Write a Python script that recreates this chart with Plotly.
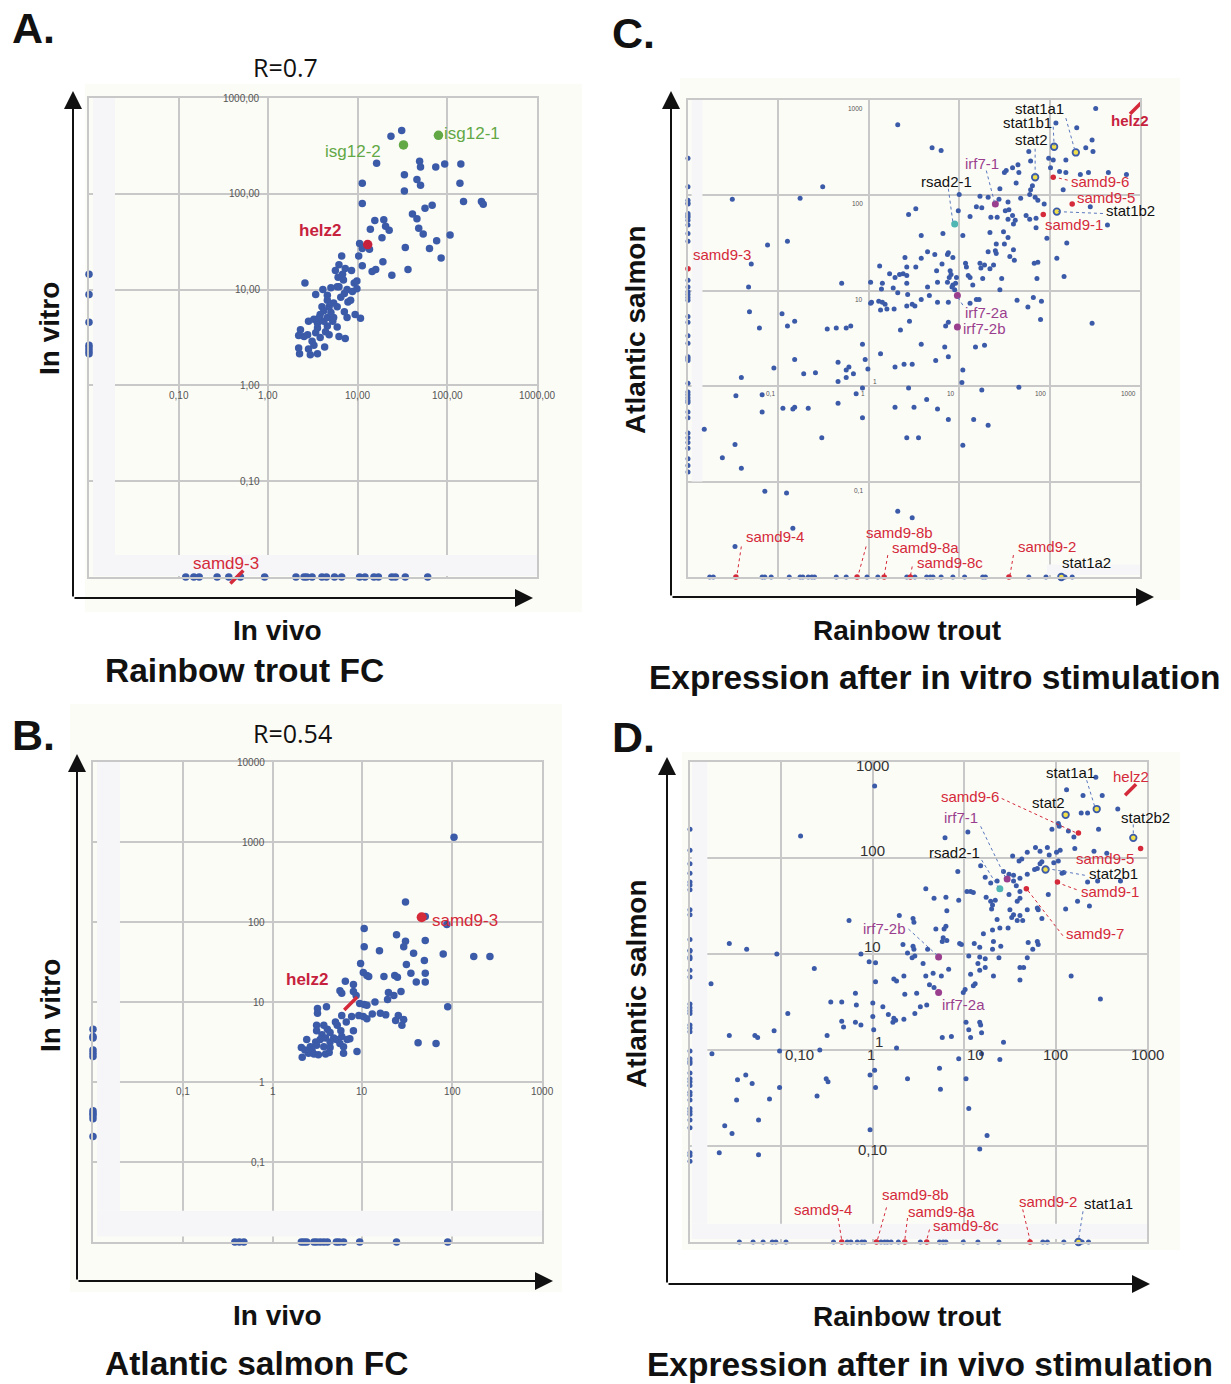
import plotly.graph_objects as go

# ------------------------------------------------------------------
# DATA  (values are log10 fold change; None = no detectable change,
#        such genes are drawn on the floor of the axis)
# ------------------------------------------------------------------

# A. Rainbow trout FC : (in vivo, in vitro)
a_points = [
    (1.49, 2.66), (1.37, 2.60), (1.21, 2.32), (1.05, 2.11), (1.05, 1.90), (1.69, 2.34), (1.70, 2.28),
    (1.87, 2.28), (1.97, 2.31), (2.15, 2.31), (1.52, 2.20), (1.66, 2.15), (1.70, 2.09), (1.52, 2.03),
    (2.14, 2.11), (2.18, 1.92), (2.38, 1.92), (2.40, 1.89), (1.83, 1.88), (1.75, 1.85), (1.61, 1.79),
    (1.66, 1.74), (1.19, 1.72), (1.29, 1.73), (1.31, 1.66), (1.35, 1.62), (1.14, 1.63), (1.68, 1.64),
    (1.73, 1.58), (2.03, 1.57), (1.27, 1.54), (1.88, 1.51), (1.80, 1.43), (1.53, 1.44), (1.93, 1.33),
    (1.02, 1.48), (1.05, 1.43), (1.13, 1.42), (1.01, 1.35), (0.82, 1.35), (1.05, 1.25), (1.28, 1.29),
    (1.20, 1.21), (1.16, 1.19), (1.56, 1.21), (1.38, 1.15), (0.79, 1.26), (0.75, 1.20), (0.83, 1.16),
    (0.86, 1.22), (0.93, 1.20), (0.78, 1.13), (0.84, 1.10), (0.77, 1.03), (0.88, 1.00), (0.96, 1.07),
    (0.99, 1.09), (0.94, 0.98), (0.99, 1.01), (0.92, 0.89), (0.89, 0.87), (0.70, 1.02), (0.61, 1.00),
    (0.66, 0.94), (0.53, 0.95), (0.41, 1.07), (0.73, 0.86), (0.77, 0.82), (0.85, 0.77), (0.88, 0.71),
    (0.97, 0.74), (1.03, 0.70), (0.77, 0.61), (0.79, 0.51), (0.86, 0.49), (0.63, 0.40), (0.55, 0.33),
    (0.47, 0.32), (0.35, 0.33), (0.34, 0.39), (0.36, 0.58), (0.34, 0.52), (0.44, 0.53), (0.45, 0.67),
    (0.51, 0.69), (0.55, 0.60), (0.58, 0.50), (0.60, 0.82), (0.66, 0.89), (0.62, 0.78), (0.58, 0.74),
    (0.66, 0.71), (0.70, 0.76), (0.72, 0.67), (0.66, 0.62), (0.55, 0.65), (0.53, 0.55), (0.49, 0.46),
    (0.45, 0.38), (0.40, 0.51), (0.62, 0.67), (0.68, 0.82), (0.57, 0.71), (0.64, 0.56), (0.51, 0.42),
    (0.68, 0.53), (0.73, 0.71), (0.81, 0.92), (0.79, 1.03), (0.85, 0.96),
]
a_left = [1.16, 0.95, 0.66, 0.42, 0.39, 0.36, 0.33]          # in vivo FC = 0
a_bottom = [-0.92, -0.83, -0.77, -0.57, -0.44, -0.31, -0.04, 0.31, 0.40, 0.43, 0.49, 0.60,
            0.65, 0.74, 0.82, 1.02, 1.08, 1.18, 1.23, 1.38, 1.42, 1.53, 1.78]  # in vitro FC = 0
a_genes = ["isg12-1", "isg12-2", "helz2", "samd9-3"]
a_gene_x = [1.90, 1.51, 1.11, -0.35]
a_gene_y = [2.61, 2.51, 1.47, None]

# B. Atlantic salmon FC : (in vivo, in vitro)
b_points = [
    (2.02, 3.06), (1.48, 2.25), (1.70, 2.07), (1.94, 1.97), (1.02, 1.92), (1.38, 1.84), (1.48, 1.76),
    (1.70, 1.77), (1.46, 1.69), (1.02, 1.69), (1.19, 1.64), (1.57, 1.61), (1.90, 1.60), (2.24, 1.57),
    (2.42, 1.57), (1.69, 1.52), (0.98, 1.48), (1.49, 1.47), (1.54, 1.36), (1.70, 1.36), (1.01, 1.37),
    (1.05, 1.33), (1.07, 1.32), (1.24, 1.32), (1.36, 1.33), (1.39, 1.31), (1.60, 1.25), (1.70, 1.25),
    (0.81, 1.26), (0.90, 1.22), (0.75, 1.14), (0.77, 1.11), (1.29, 1.12), (1.35, 1.08), (1.43, 1.13),
    (1.28, 1.03), (0.93, 1.08), (1.14, 1.00), (1.02, 0.97), (0.97, 0.98), (1.05, 0.96), (1.95, 0.94),
    (1.11, 0.85), (1.20, 0.86), (1.26, 0.84), (1.40, 0.83), (1.37, 0.77), (1.46, 0.78), (1.44, 0.71),
    (0.88, 0.82), (0.96, 0.83), (1.05, 0.79), (1.01, 0.82), (0.77, 0.83), (0.82, 0.75), (0.90, 0.64),
    (0.86, 0.54), (0.94, 0.38), (1.62, 0.49), (1.82, 0.48), (0.50, 0.92), (0.50, 0.86), (0.60, 0.94),
    (0.49, 0.71), (0.57, 0.71), (0.61, 0.66), (0.49, 0.64), (0.55, 0.59), (0.64, 0.62), (0.70, 0.75),
    (0.72, 0.71), (0.76, 0.64), (0.77, 0.57), (0.71, 0.53), (0.64, 0.50), (0.59, 0.55), (0.53, 0.53),
    (0.48, 0.50), (0.38, 0.53), (0.42, 0.44), (0.49, 0.46), (0.57, 0.44), (0.64, 0.43), (0.79, 0.44),
    (0.79, 0.36), (0.32, 0.43), (0.33, 0.31), (0.40, 0.36), (0.46, 0.35), (0.51, 0.34), (0.59, 0.35),
    (0.36, 0.40), (0.44, 0.39), (0.63, 0.37), (0.68, 0.55), (0.83, 0.53), (0.75, 0.48), (0.90, 1.13),
]
b_left = [0.66, 0.57, 0.55, 0.40, 0.36, 0.32, -0.36, -0.39, -0.42, -0.46, -0.68]
b_bottom = [-0.42, -0.37, -0.32, 0.32, 0.35, 0.38, 0.46, 0.49, 0.53, 0.57, 0.61, 0.71, 0.74,
            0.79, 0.97, 1.38, 1.95]
b_genes = ["helz2", "samd9-3"]
b_gene_x = [0.87, 1.66]
b_gene_y = [0.98, 2.06]

# C. Expression after in vitro stimulation : (rainbow trout, Atlantic salmon)
c_points = [
    (2.51, 2.91), (2.07, 2.76), (2.30, 2.71), (0.32, 2.74), (0.70, 2.50), (0.80, 2.47), (2.47, 2.58),
    (2.40, 2.50), (2.48, 2.46), (1.77, 2.46), (1.99, 2.39), (2.04, 2.37), (2.18, 2.37), (1.79, 2.36),
    (1.65, 2.32), (1.52, 2.26), (1.59, 2.29), (1.50, 2.24), (1.66, 2.24), (2.11, 2.25), (2.18, 2.24),
    (2.01, 2.29), (2.34, 2.22), (2.43, 2.24), (2.65, 2.24), (2.85, 2.22), (1.63, 2.13), (1.45, 2.07),
    (1.81, 2.10), (1.79, 2.06), (2.15, 2.06), (-0.51, 2.09),
    (-1.51, 1.96), (-0.76, 1.97), (1.00, 2.01), (0.52, 1.86), (0.44, 1.80), (1.23, 1.99), (1.32, 1.98),
    (1.19, 1.88), (1.25, 1.87), (1.44, 1.96), (1.54, 1.93), (1.68, 1.97), (1.78, 2.01), (1.84, 1.98),
    (1.87, 1.95), (1.94, 1.91), (0.99, 1.84), (1.12, 1.78), (1.35, 1.77), (1.42, 1.77), (1.51, 1.84),
    (1.55, 1.85), (1.59, 1.79), (1.62, 1.74), (1.60, 1.70), (1.54, 1.75), (1.74, 1.79), (1.78, 1.75),
    (1.85, 1.76), (1.85, 1.66), (1.97, 1.55), (2.45, 1.88), (2.64, 1.69), (2.19, 1.50), (2.08, 1.34),
    (2.16, 1.15), (0.58, 1.58), (0.82, 1.60), (1.04, 1.58), (1.34, 1.61), (1.49, 1.62), (1.54, 1.56),
    (1.60, 1.43), (1.61, 1.32), (1.56, 1.36), (1.50, 1.49), (1.41, 1.49), (1.40, 1.42), (1.32, 1.41),
    (1.41, 1.39), (1.23, 1.29), (1.28, 1.27), (1.38, 1.27), (1.34, 1.23), (1.24, 1.24), (1.07, 1.29),
    (1.08, 1.25), (0.88, 1.40), (0.87, 1.38), (0.93, 1.35), (0.81, 1.28), (0.73, 1.38), (0.65, 1.41),
    (0.40, 1.35), (0.42, 1.25), (0.52, 1.25), (0.58, 1.34), (0.75, 1.21), (0.90, 1.21), (0.91, 1.17),
    (0.89, 1.14), (0.97, 1.14), (1.10, 1.16), (1.12, 1.14), (1.26, 1.13), (1.47, 1.13), (1.86, 1.13),
    (1.83, 1.29), (1.87, 1.30), (-1.12, 1.48), (-0.90, 1.52), (-1.30, 1.28), (-1.33, 1.04), (-0.30, 1.08),
    (0.12, 1.26), (0.23, 1.18), (0.29, 1.14), (0.34, 1.17), (0.38, 1.18), (0.42, 1.16), (0.42, 1.08),
    (0.27, 1.03), (0.14, 1.02), (0.15, 1.08), (0.02, 1.09), (0.65, 1.04), (0.76, 1.09), (0.87, 1.09),
    (0.93, 1.06), (0.96, 1.08), (1.15, 1.06), (1.45, 1.01), (0.95, 1.01), (0.92, 1.04),
    (0.02, 0.87), (0.03, 0.88), (0.11, 0.89), (0.15, 0.88), (0.18, 0.86), (0.20, 0.81), (0.13, 0.80),
    (0.28, 0.81), (0.32, 0.98), (0.43, 0.96), (0.48, 0.86), (0.51, 0.84), (0.42, 0.84), (0.58, 0.91),
    (0.67, 0.95), (0.76, 0.88), (0.88, 0.88), (1.12, 0.87), (1.19, 0.91), (1.22, 0.91), (1.64, 0.90),
    (1.76, 0.83), (1.82, 0.93), (1.91, 0.89), (1.90, 0.70), (2.47, 0.66), (0.35, 0.59), (0.45, 0.68),
    (0.85, 0.63), (0.88, 0.67), (-1.32, 0.78), (-1.21, 0.61), (-0.96, 0.76), (-0.90, 0.63), (-0.82, 0.68),
    (-0.46, 0.60), (-0.36, 0.61), (-0.25, 0.61), (-0.20, 0.63), (-0.07, 0.44), (0.13, 0.34), (-0.04, 0.28),
    (-0.01, 0.18), (0.29, 0.20), (0.39, 0.23), (0.48, 0.23), (0.74, 0.27), (0.88, 0.31), (0.58, 0.44),
    (0.84, 0.41), (1.18, 0.41), (1.28, 0.43), (1.04, 0.17), (1.03, 0.04), (-0.34, 0.25), (-0.25, 0.17),
    (-0.22, 0.20), (-0.17, 0.13), (-0.34, 0.05), (-0.25, 0.09), (-0.72, 0.13), (-0.59, 0.14), (-0.82, 0.28),
    (-1.05, 0.19), (-1.41, 0.09), (-0.07, -0.02), (-0.14, -0.08), (1.66, -0.01), (1.25, -0.04),
    (-1.47, -0.10), (-1.18, -0.09), (-1.18, -0.27), (-0.95, -0.23), (-0.84, -0.24), (-0.82, -0.22),
    (-0.67, -0.23), (-0.34, -0.18), (-0.07, -0.33), (0.29, -0.22), (0.44, -0.02), (0.50, -0.22),
    (0.64, -0.14), (0.76, -0.24), (0.88, -0.35), (1.16, -0.35), (1.32, -0.41), (-0.52, -0.54),
    (0.42, -0.54), (0.55, -0.54), (1.04, -0.62), (-1.82, -0.45), (-1.48, -0.61), (-1.62, -0.75),
    (-1.41, -0.86), (-1.15, -1.10), (-0.91, -1.12), (0.32, -1.31), (0.48, -1.38), (-0.84, -1.49),
    (-1.48, -1.68),
]
c_left = [2.39, 2.09, 1.95, 1.92, 1.91, 1.81, 1.79, 1.77, 1.74, 1.69, 1.60, 1.52, 1.11, 1.04, 0.99,
          0.96, 0.93, 0.90, 0.73, 0.67, 0.53, 0.45, 0.31, 0.29, 0.27, 0.03, -0.06, -0.09, -0.12, -0.15,
          -0.17, -0.27, -0.33, -0.49, -0.54, -0.59, -0.65, -0.76, -0.83, -0.90]
c_bottom = [-1.76, -1.72, -1.18, -1.15, -1.08, -0.88, -0.76, -0.73, -0.67, -0.63, -0.60, -0.36, -0.25,
            -0.02, 0.10, 0.42, 0.51, 0.64, 0.68, 0.71, 0.80, 0.93, 1.06, 1.26, 1.29, 1.77, 1.96, 2.17, 2.25]
c_genes = ["helz2", "samd9-6", "samd9-5", "samd9-1", "samd9-3", "samd9-4", "samd9-8b", "samd9-8a",
           "samd9-8c", "samd9-2", "irf7-1", "irf7-2a", "irf7-2b", "rsad2-1",
           "stat1a1", "stat1b1", "stat2", "stat1b2", "stat1a2"]
c_gene_x = [2.95, 2.04, 2.25, 1.93, None, -1.47, -0.13, 0.17, 0.46, 1.55, 1.40, 0.98, 0.98, 0.95,
            2.29, 2.05, 1.84, 2.08, 2.13]
c_gene_y = [2.91, 2.19, 1.91, 1.80, 1.23, None, None, None, None, None, 1.91, 0.95, 0.62, 1.70,
            2.45, 2.51, 2.19, 1.83, None]

# D. Expression after in vivo stimulation : (rainbow trout, Atlantic salmon)
d_points = [
    (2.44, 2.84), (2.12, 2.71), (2.30, 2.65), (2.51, 2.65), (0.02, 2.75), (2.68, 2.51), (2.28, 2.47),
    (2.35, 2.47), (2.47, 2.30), (2.03, 2.36), (2.04, 2.33), (1.96, 2.30), (2.14, 2.28), (2.20, 2.22),
    (0.79, 2.21), (1.04, 2.27), (-0.79, 2.23), (2.01, 2.06), (2.05, 2.08), (2.21, 2.10), (1.91, 2.11),
    (1.78, 2.11), (1.83, 2.07), (1.69, 2.06), (1.53, 2.02), (1.63, 1.99), (1.93, 2.03), (2.42, 2.07),
    (2.56, 2.05), (1.98, 1.95), (2.07, 1.84), (2.46, 1.76), (2.71, 1.76), (1.85, 1.96), (1.60, 1.97),
    (0.93, 1.86), (1.18, 1.92), (1.23, 1.80), (1.29, 1.74), (1.36, 1.76), (1.49, 1.83), (1.54, 1.82),
    (1.61, 1.79), (1.69, 1.83), (1.77, 1.88), (1.80, 1.89), (1.83, 1.94), (2.03, 1.97), (2.09, 1.85),
    (2.35, 1.75), (1.43, 1.86), (1.03, 1.65), (1.07, 1.65), (1.10, 1.64), (0.94, 1.56), (1.24, 1.59),
    (1.29, 1.55), (1.31, 1.51), (1.30, 1.47), (1.34, 1.56), (1.49, 1.62), (1.58, 1.55), (1.61, 1.58),
    (1.61, 1.65), (1.57, 1.71), (1.54, 1.76), (1.92, 1.62), (1.80, 1.48), (1.81, 1.46), (1.69, 1.46),
    (1.61, 1.40), (1.54, 1.41), (1.52, 1.38), (1.58, 1.35), (1.64, 1.35), (1.48, 1.27), (1.85, 1.37),
    (2.11, 1.47), (2.24, 1.55), (2.37, 1.50), (1.50, 1.46), (1.36, 1.36), (0.58, 1.68), (0.67, 1.58),
    (0.80, 1.59), (0.81, 1.45), (0.80, 1.29), (0.78, 1.26), (0.69, 1.26), (0.77, 1.17), (0.76, 1.13),
    (0.81, 1.14), (0.95, 1.11), (0.97, 1.10), (1.21, 1.21), (1.31, 1.25), (1.39, 1.27), (1.40, 1.08),
    (1.32, 1.13), (1.31, 1.05), (1.11, 1.11), (1.17, 1.07), (1.70, 1.12), (1.80, 1.13), (1.81, 1.10),
    (1.75, 1.05), (1.69, 0.96), (0.29, 1.40), (0.44, 1.37), (0.45, 1.33), (-0.26, 1.35), (0.33, 1.10),
    (0.44, 1.08), (0.45, 1.05), (0.46, 0.98), (0.60, 1.05), (0.38, 1.01), (0.43, 0.96), (-1.57, 1.11),
    (-1.38, 1.05), (-1.05, 1.00), (-0.13, 1.00), (-0.04, 0.92), (0.03, 0.91),
    (-0.64, 0.85), (0.03, 0.71), (0.23, 0.74), (0.26, 0.72), (0.34, 0.77), (0.35, 0.58), (0.48, 0.59),
    (0.55, 0.90), (0.58, 0.77), (0.66, 0.80), (0.75, 0.77), (0.83, 0.84), (1.05, 0.98), (1.17, 0.97),
    (1.23, 0.95), (1.38, 0.96), (1.15, 0.90), (1.17, 0.83), (1.23, 0.86), (1.07, 0.79), (1.12, 0.69),
    (1.32, 0.77), (1.61, 0.86), (1.65, 0.86), (1.61, 0.73), (2.17, 0.77), (2.49, 0.53), (0.62, 0.68),
    (0.67, 0.65), (0.59, 0.47), (0.52, 0.45), (0.46, 0.38), (0.34, 0.32), (0.25, 0.31), (0.22, 0.29),
    (0.23, 0.33), (0.17, 0.37), (0.11, 0.45), (0.00, 0.49), (0.00, 0.35), (0.01, 0.21), (-0.13, 0.26),
    (-0.19, 0.29), (-0.18, 0.47), (-0.19, 0.59), (-0.34, 0.50), (-0.34, 0.30), (-0.32, 0.24), (-0.46, 0.50),
    (-0.50, 0.15), (0.99, 0.60), (1.01, 0.63), (1.10, 0.67), (1.02, 0.29), (1.05, 0.21), (1.17, 0.29),
    (1.18, 0.26), (1.19, 0.18), (1.07, 0.13), (0.76, 0.13), (0.86, 0.14), (0.26, 0.02), (1.43, 0.08),
    (-1.77, 0.69), (-0.93, 0.38), (-1.08, 0.20), (-1.57, 0.15), (-1.29, 0.15), (-1.26, 0.13),
    (-1.76, -0.04), (-1.02, -0.01), (-0.58, 0.00), (0.94, -0.09), (1.19, -0.04), (1.39, -0.10),
    (0.73, -0.19), (1.02, -0.30), (0.02, -0.21), (-0.03, -0.26), (0.38, -0.30), (-0.51, -0.30),
    (-0.49, -0.33), (0.03, -0.39), (0.74, -0.41), (-0.61, -0.48), (-1.02, -0.39), (-1.13, -0.51),
    (-1.32, -0.35), (-1.39, -0.26), (-1.48, -0.31), (-1.49, -0.52), (-1.25, -0.73), (-1.62, -0.79),
    (-1.54, -0.87), (-0.03, -0.83), (1.05, -0.61), (1.25, -0.89), (1.17, -1.03), (-1.68, -1.07),
    (-1.25, -1.09),
]
d_left = [2.30, 2.08, 1.94, 1.84, 1.75, 1.72, 1.67, 1.46, 1.41, 1.15, 1.04, 1.03, 0.97, 0.95, 0.83,
          0.76, 0.48, 0.44, 0.41, 0.38, 0.26, 0.23, 0.19, -0.01, -0.09, -0.12, -0.14, -0.24, -0.30,
          -0.33, -0.37, -0.44, -0.47, -0.52, -0.61, -0.64, -0.67, -0.73, -0.81, -1.07, -1.10, -1.16]
d_bottom = [-1.46, -1.31, -1.20, -1.10, -1.06, -0.95, -0.43, -0.28, -0.24, -0.17, -0.12, -0.09, 0.09,
            0.13, 0.16, 0.20, 0.28, 0.52, 0.73, 0.77, 0.80, 0.99, 1.15, 1.38, 1.86, 1.91, 2.09, 2.29, 2.36]
d_genes = ["helz2", "samd9-6", "samd9-5", "samd9-1", "samd9-7", "samd9-4", "samd9-8b", "samd9-8a",
           "samd9-8c", "samd9-2", "irf7-1", "irf7-2b", "irf7-2a", "rsad2-1",
           "stat1a1", "stat2", "stat2b2", "stat2b1", "stat1a1 "]
d_gene_x = [2.82, 2.25, 2.93, 2.02, 1.68, -0.34, 0.04, 0.35, 0.59, 1.72, 1.47, 0.72, 0.72, 1.39,
            2.45, 2.11, 2.85, 1.89, 2.25]
d_gene_y = [2.71, 2.26, 2.10, 1.75, 1.68, None, None, None, None, None, 1.78, 0.97, 0.60, 1.68,
            2.51, 2.45, 2.21, 1.88, None]

# tick labels (log10 position -> printed fold change)
a_ticks = [-1, 0, 1, 2, 3]
a_tick_text = ["0,10", "1,00", "10,00", "100,00", "1000,00"]
b_xticks = [-1, 0, 1, 2, 3]
b_xtick_text = ["0,1", "1", "10", "100", "1000"]
b_yticks = [-1, 0, 1, 2, 3, 4]
b_ytick_text = ["0,1", "1", "10", "100", "1000", "10000"]
c_ticks = [-1, 0, 1, 2, 3]
c_tick_text = ["0,1", "1", "10", "100", "1000"]
d_ticks = [-1, 0, 1, 2, 3]
d_tick_text = ["0,10", "1", "10", "100", "1000"]

# ------------------------------------------------------------------
# STYLE / LAYOUT
# ------------------------------------------------------------------
PAGE = 8                      # default body margin of the html page
W, H = 1231 - PAGE, 1384 - PAGE
SANS = "Liberation Sans, Arial, Helvetica, sans-serif"
HUMAN = "Open Sans, Liberation Sans, Arial, sans-serif"
BLUE = "#3b5ba9"
RED = "#d42a3a"
CRIMSON = "#c7223d"
GREEN = "#62a845"
PURPLE = "#9a3f8e"
TEAL = "#4fb6b3"
YELLOW = "#f1e04a"
BLACK = "#111111"
LEAD = "#5a78bd"
GRID = "#c8c8c8"
BG = "#fcfcf7"
STRIP = "#f6f6f8"
FLOOR = -2


def X(px):
    return (px - PAGE) / W


def Y(py):
    return 1 - (py - PAGE) / H


def fl(v):
    return FLOOR if v is None else v


def sfx(n):
    return "" if n == 1 else str(n)


fig = go.Figure()

SLASH = {"A": {"samd9-3"}, "B": {"helz2"}, "C": {"helz2"}, "D": {"helz2"}}


def gene_style(panel, name):
    big = panel in ("A", "B")
    if name in SLASH[panel]:
        return dict(symbol="line-ne", size=13 if big else 11, color=RED, line=dict(color=RED, width=3.5))
    if name.startswith("isg12"):
        return dict(symbol="circle", size=9.5, color=GREEN, line=dict(width=0))
    if name.startswith("irf7"):
        return dict(symbol="circle", size=7, color=PURPLE, line=dict(width=0))
    if name.startswith("rsad2"):
        return dict(symbol="circle", size=7, color=TEAL, line=dict(width=0))
    if name.startswith("stat"):
        return dict(symbol="circle", size=6.5, color=YELLOW, line=dict(color=BLUE, width=1.8))
    if name == "helz2":
        return dict(symbol="circle", size=9.5, color=CRIMSON, line=dict(width=0))
    return dict(symbol="circle", size=10 if big else 5.5, color=RED, line=dict(width=0))


def scatter(n, xs, ys, marker):
    fig.add_trace(go.Scatter(
        x=[fl(v) for v in xs], y=[fl(v) for v in ys], mode="markers", marker=marker,
        xaxis="x" + sfx(n), yaxis="y" + sfx(n), cliponaxis=False,
        hoverinfo="skip", showlegend=False))


PANELS = [
    (1, "A", a_points, a_left, a_bottom, a_genes, a_gene_x, a_gene_y, 7.5),
    (2, "B", b_points, b_left, b_bottom, b_genes, b_gene_x, b_gene_y, 7.5),
    (3, "C", c_points, c_left, c_bottom, c_genes, c_gene_x, c_gene_y, 5),
    (4, "D", d_points, d_left, d_bottom, d_genes, d_gene_x, d_gene_y, 5),
]
for n, key, pts, left, bottom, genes, gx, gy, size in PANELS:
    blue = dict(color=BLUE, size=size, line=dict(width=0))
    scatter(n, [p[0] for p in pts], [p[1] for p in pts], blue)
    scatter(n, [None] * len(left), left, blue)
    scatter(n, bottom, [None] * len(bottom), blue)
    for g, x, y in zip(genes, gx, gy):
        scatter(n, [x], [y], gene_style(key, g.strip()))

# axes: plot areas in page pixels (left, right, top, bottom) and log10 ranges
AREAS = {1: (89, 537, 98, 577, [-2, 3], [-2, 3]),
         2: (93, 542, 762, 1242, [-2, 3], [-2, 4]),
         3: (688, 1140, 100, 577, [-2, 3], [-2, 3]),
         4: (690, 1147, 762, 1242, [-2, 3], [-2, 3])}


def axis(dom, rng, anchor):
    return dict(domain=dom, range=rng, anchor=anchor, dtick=1, tick0=0, showgrid=True,
                gridcolor=GRID, gridwidth=2, zeroline=False, showticklabels=False, ticks="",
                showline=True, mirror=True, linecolor=GRID, linewidth=2, fixedrange=True)


lay = {}
for n, (x0, x1, y0, y1, xr, yr) in AREAS.items():
    s = sfx(n)
    lay["xaxis" + s] = axis([X(x0), X(x1)], xr, "y" + s)
    lay["yaxis" + s] = axis([Y(y1), Y(y0)], yr, "x" + s)

shapes = []
# faint cream backgrounds of the pasted panels
for (l, t, r, b) in [(85, 84, 582, 612), (70, 704, 562, 1292), (680, 78, 1180, 600), (682, 752, 1180, 1250)]:
    shapes.append(dict(type="rect", xref="paper", yref="paper", x0=X(l), x1=X(r), y0=Y(b), y1=Y(t),
                       fillcolor=BG, line=dict(width=0), layer="below"))
# pale strips separating the "not detected" rows/columns
STRIPS = {1: [(-1.955, -1.71, -1.77, 3.0), (-1.955, 3.2, -1.99, -1.77)],
          2: [(-1.955, -1.70, -1.61, 4.0), (-1.955, 3.2, -1.93, -1.61)],
          3: [(-1.96, -1.84, -1.0, 3.0), (1.97, 3.2, -1.98, -1.87)],
          4: [(-1.98, -1.81, -1.81, 3.0), (-1.98, 3.2, -1.97, -1.81)]}
for n, lst in STRIPS.items():
    for (x0, x1, y0, y1) in lst:
        shapes.append(dict(type="rect", xref="x" + sfx(n), yref="y" + sfx(n), x0=x0, x1=x1, y0=y0, y1=y1,
                           fillcolor=STRIP, line=dict(width=0), layer="between"))

# leader lines for gene labels
C_LEADERS = [((2.18, 2.81), (2.28, 2.47), LEAD), ((2.04, 2.72), (2.05, 2.52), LEAD),
             ((1.84, 2.49), (1.84, 2.21), LEAD), ((1.30, 2.26), (1.39, 1.93), LEAD),
             ((0.88, 2.07), (0.93, 1.72), LEAD), ((2.20, 2.16), (2.06, 2.19), RED),
             ((2.59, 1.81), (2.09, 1.83), LEAD), ((1.04, 0.85), (0.98, 0.94), LEAD),
             ((-1.41, -1.68), (-1.46, -1.99), RED), ((-0.03, -1.68), (-0.12, -1.99), RED),
             ((0.21, -1.77), (0.17, -1.99), RED), ((0.48, -1.89), (0.46, -1.99), RED),
             ((1.60, -1.77), (1.56, -1.99), RED)]
D_LEADERS = [((2.34, 2.81), (2.43, 2.53), LEAD), ((1.41, 2.62), (2.23, 2.26), RED),
             ((1.18, 2.33), (1.45, 1.80), LEAD), ((1.19, 1.98), (1.37, 1.70), LEAD),
             ((2.85, 2.35), (2.85, 2.23), LEAD), ((2.32, 1.82), (1.91, 1.89), LEAD),
             ((2.23, 1.67), (2.03, 1.74), RED), ((2.08, 1.19), (1.69, 1.67), RED),
             ((0.39, 1.26), (0.70, 0.99), LEAD), ((-0.38, -1.75), (-0.34, -1.98), RED),
             ((0.15, -1.64), (0.05, -1.98), RED), ((0.38, -1.75), (0.35, -1.98), RED),
             ((0.62, -1.87), (0.59, -1.98), RED), ((1.64, -1.66), (1.72, -1.98), RED),
             ((2.30, -1.68), (2.25, -1.98), LEAD)]
for n, leaders in [(3, C_LEADERS), (4, D_LEADERS)]:
    for (p0, p1, col) in leaders:
        shapes.append(dict(type="line", xref="x" + sfx(n), yref="y" + sfx(n), x0=p0[0], y0=p0[1],
                           x1=p1[0], y1=p1[1], line=dict(color=col, width=1, dash="dot"), layer="above"))

ann = []


def lab(n, text, x, y, size, color, xanchor="center", yanchor="middle", bold=False, family=SANS):
    ann.append(dict(xref="x" + sfx(n), yref="y" + sfx(n), x=x, y=y, text=("<b>%s</b>" % text) if bold else text,
                    showarrow=False, xanchor=xanchor, yanchor=yanchor,
                    font=dict(family=family, size=size, color=color)))


# tick labels written inside the plots
for v, t in zip(a_ticks, a_tick_text):
    lab(1, t, v, -0.11, 10, "#555555")
    lab(1, t, -0.07, v, 10, "#555555", xanchor="right")
for v, t in zip(b_xticks, b_xtick_text):
    lab(2, t, v, -0.12, 10, "#555555")
for v, t in zip(b_yticks, b_ytick_text):
    lab(2, t, -0.06, v, 10, "#555555", xanchor="right")
for v, t in zip(c_ticks, c_tick_text):
    lab(3, t, v - 0.02, -0.08, 6.5, "#555555", xanchor="right")
    if v == 0:
        lab(3, t, 0.02, 0.05, 6.5, "#555555", xanchor="left")
    else:
        lab(3, t, -0.04, v - 0.09, 6.5, "#555555", xanchor="right")
D_XDX = {-1: 0.20, 0: -0.02, 1: 0.12, 2: 0.0, 3: 0.0}
D_YOFF = {3: (0, -0.04), 2: (0, 0.08), 1: (0, 0.08), 0: (0.07, 0.09), -1: (0, -0.04)}
for v, t in zip(d_ticks, d_tick_text):
    lab(4, t, v + D_XDX[v], -0.05, 15, "#333333")
    dx, dy = D_YOFF[v]
    lab(4, t, dx, v + dy, 15, "#333333")

# gene labels
A_LABELS = [("isg12-2", 0.95, 2.44, GREEN, False), ("isg12-1", 2.27, 2.63, GREEN, False),
            ("helz2", 0.58, 1.62, CRIMSON, True), ("samd9-3", -0.47, -1.86, RED, False)]
B_LABELS = [("helz2", 0.39, 1.28, CRIMSON, True), ("samd9-3", 2.14, 2.02, RED, False)]
C_LABELS = [("stat1a1", 1.89, 2.91, BLACK, False), ("stat1b1", 1.76, 2.76, BLACK, False),
            ("stat2", 1.80, 2.59, BLACK, False), ("helz2", 2.89, 2.79, CRIMSON, True),
            ("irf7-1", 1.25, 2.33, PURPLE, False), ("rsad2-1", 0.86, 2.15, BLACK, False),
            ("samd9-6", 2.56, 2.15, RED, False), ("samd9-5", 2.62, 1.98, RED, False),
            ("stat1b2", 2.89, 1.84, BLACK, False), ("samd9-1", 2.27, 1.69, RED, False),
            ("samd9-3", -1.62, 1.38, RED, False), ("irf7-2a", 1.30, 0.77, PURPLE, False),
            ("irf7-2b", 1.28, 0.60, PURPLE, False), ("samd9-4", -1.04, -1.58, RED, False),
            ("samd9-8b", 0.34, -1.53, RED, False), ("samd9-8a", 0.63, -1.69, RED, False),
            ("samd9-8c", 0.90, -1.85, RED, False), ("samd9-2", 1.97, -1.68, RED, False),
            ("stat1a2", 2.41, -1.85, BLACK, False)]
D_LABELS = [("stat1a1", 2.16, 2.89, BLACK, False), ("helz2", 2.83, 2.85, RED, False),
            ("samd9-6", 1.06, 2.64, RED, False), ("stat2", 1.92, 2.58, BLACK, False),
            ("irf7-1", 0.97, 2.42, PURPLE, False), ("stat2b2", 2.98, 2.42, BLACK, False),
            ("rsad2-1", 0.89, 2.06, BLACK, False), ("samd9-5", 2.54, 1.99, RED, False),
            ("stat2b1", 2.63, 1.84, BLACK, False), ("samd9-1", 2.60, 1.65, RED, False),
            ("irf7-2b", 0.13, 1.27, PURPLE, False), ("samd9-7", 2.43, 1.21, RED, False),
            ("irf7-2a", 0.99, 0.47, PURPLE, False), ("samd9-4", -0.55, -1.66, RED, False),
            ("samd9-8b", 0.47, -1.51, RED, False), ("samd9-8a", 0.75, -1.68, RED, False),
            ("samd9-8c", 1.02, -1.83, RED, False), ("samd9-2", 1.92, -1.58, RED, False),
            ("stat1a1", 2.58, -1.60, BLACK, False)]
for n, labels, size in [(1, A_LABELS, 17), (2, B_LABELS, 17), (3, C_LABELS, 15), (4, D_LABELS, 15)]:
    for (t, x, y, col, bold) in labels:
        lab(n, t, x, y, size, col, bold=bold)

# figure texts (page pixel centres)
TEXTS = [("A.", 33, 28, 43, True, 0, SANS), ("B.", 33, 735, 43, True, 0, SANS),
         ("C.", 633, 33, 43, True, 0, SANS), ("D.", 633, 737, 43, True, 0, SANS),
         ("R=0.7", 285, 67, 25, False, 0, HUMAN), ("R=0.54", 292, 733, 25, False, 0, HUMAN),
         ("In vitro", 50, 328, 28, True, -90, SANS), ("In vivo", 277, 630, 28, True, 0, SANS),
         ("Rainbow trout FC", 244, 670, 33.5, True, 0, SANS),
         ("In vitro", 50, 1005, 28, True, -90, SANS), ("In vivo", 277, 1315, 28, True, 0, SANS),
         ("Atlantic salmon FC", 256, 1363, 33.5, True, 0, SANS),
         ("Atlantic salmon", 636, 330, 28, True, -90, SANS), ("Rainbow trout", 907, 630, 28, True, 0, SANS),
         ("Expression after in vitro stimulation", 934, 677, 33.5, True, 0, SANS),
         ("Atlantic salmon", 636, 984, 28, True, -90, SANS), ("Rainbow trout", 907, 1316, 28, True, 0, SANS),
         ("Expression after in vivo stimulation", 930, 1364, 33.5, True, 0, SANS)]
for (t, cx, cy, size, bold, ang, fam) in TEXTS:
    ann.append(dict(xref="paper", yref="paper", x=X(cx), y=Y(cy), text=("<b>%s</b>" % t) if bold else t,
                    showarrow=False, xanchor="center", yanchor="middle", textangle=ang,
                    font=dict(family=fam, size=size, color="#111111")))

# axis arrows (tail px -> tip px)
ARROWS = [((73, 598), (73, 91)), ((73, 598), (533, 598)),
          ((77, 1281), (77, 754)), ((77, 1281), (553, 1281)),
          ((671, 597), (671, 91)), ((671, 597), (1154, 597)),
          ((667, 1284), (667, 757)), ((667, 1284), (1150, 1284))]
for (tx, ty), (hx, hy) in ARROWS:
    ann.append(dict(xref="paper", yref="paper", x=X(hx), y=Y(hy), ax=tx - hx, ay=ty - hy,
                    axref="pixel", ayref="pixel", showarrow=True, arrowhead=2, arrowsize=1.8,
                    arrowwidth=2, arrowcolor="#111111", text="", standoff=0))

fig.update_layout(
    width=W, height=H, autosize=False, margin=dict(l=0, r=0, t=0, b=0),
    paper_bgcolor="white", plot_bgcolor=BG, showlegend=False,
    shapes=shapes, annotations=ann, **lay)

fig.write_html("out.html")
